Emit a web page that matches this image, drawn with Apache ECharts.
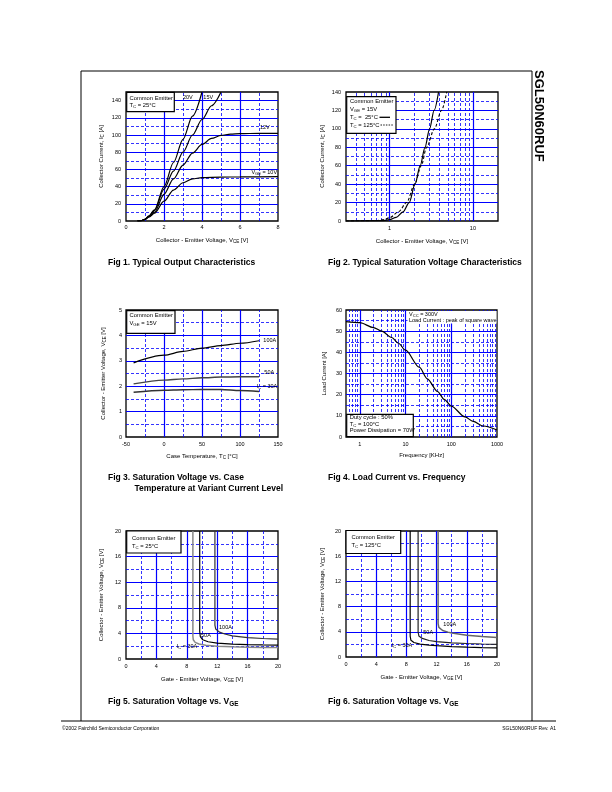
<!DOCTYPE html>
<html><head><meta charset="utf-8">
<script src="https://cdn.jsdelivr.net/npm/echarts@6/dist/echarts.min.js"></script>
<style>html,body{margin:0;padding:0;background:#fff}#c{width:612px;height:792px}</style>
</head><body><div id="c"></div>
<script>
// ---------------- DATA ----------------
// Fig 1: Ic vs Vce for various Vge (Tc = 25C)
const f1_vge20 = [[0.6,0],[0.8,0.5],[1.0,2],[1.2,6],[1.5,13],[2.0,40],[2.5,68],[3.0,95],[3.5,122],[4.0,150]];
const f1_vge15 = [[0.6,0],[0.8,0.5],[1.0,2],[1.2,5.5],[1.5,12],[2.0,37],[2.5,58],[3.0,80],[3.5,100],[4.0,118],[4.5,134],[5.0,150]];
const f1_vge12 = [[0.6,0],[0.8,0.5],[1.0,2],[1.2,5],[1.5,10],[2.0,31],[2.5,49],[3.0,65],[3.5,79],[4.0,89],[4.5,96],[5.0,99.5],[5.5,101],[6.0,101.5],[7.0,102],[8.0,102]];
const f1_vge10 = [[0.6,0],[0.8,0.5],[1.0,2],[1.2,4.5],[1.5,9],[2.0,23],[2.5,36],[3.0,44.5],[3.5,49],[4.0,50.5],[5.0,51],[6.0,51.3],[8.0,51.5]];
const f1_minorX = [1,3,5,7];
const f1_minorY = [10,30,50,70,90,110,130];

// Fig 2: saturation (log x)
const f2_tc25  = [[0.3,0],[0.85,0.5],[1.0,1.5],[1.2,4],[1.45,10],[1.72,20],[2.02,40],[2.33,60],[2.66,80],[3.02,100],[3.42,120],[3.87,140]];
const f2_tc125 = [[0.3,0],[0.7,0.5],[0.85,1.5],[1.0,3.5],[1.28,10],[1.6,20],[2.0,40],[2.4,60],[2.78,80],[3.45,100],[4.2,120],[4.85,140]];
const f2_minorX = [0.4,0.5,0.6,0.7,0.8,0.9,2,3,4,5,6,7,8,9];
const f2_minorY = [10,30,50,70,90,110,130];

// Fig 3: Vce vs Tc
const f3_100A = [[-40,2.92],[0,3.22],[25,3.37],[50,3.5],[75,3.6],[100,3.69],[125,3.79]];
const f3_50A  = [[-40,2.09],[0,2.24],[25,2.29],[50,2.33],[75,2.36],[100,2.37],[125,2.37]];
const f3_30A  = [[-40,1.76],[0,1.84],[25,1.86],[50,1.87],[75,1.87],[100,1.83],[125,1.79]];
const f3_minorX = [-25,25,75,125];
const f3_minorY = [0.5,1.5,2.5,3.5,4.5];

// Fig 4: Load current vs frequency (log x)
const f4_load = [[0.5,54.5],[1,54],[2,51.7],[3,50],[5,47],[7,44.3],[10,41],[20,33],[30,27.5],[50,21.5],[70,17.8],[100,14.6],[200,9.5],[300,7.4],[500,5.2],[1000,3.3]];
const f4_minorX = [0.6,0.7,0.8,0.9,2,3,4,5,6,7,8,9,20,30,40,50,60,70,80,90,200,300,400,500,600,700,800,900];
const f4_minorY = [5,15,25,35,45,55];

// Fig 5: Vce vs Vge, Tc = 25C
const f5_30A  = [[8.8,20],[8.8,3.6],[8.85,3.0],[9.1,2.6],[9.6,2.35],[10.5,2.15],[12,2.0],[14,1.9],[16,1.85],[18,1.8],[20,1.78]];
const f5_50A  = [[9.7,20],[9.7,4.3],[9.78,3.5],[10.1,3.0],[10.8,2.7],[12,2.48],[14,2.32],[16,2.25],[18,2.2],[20,2.18]];
const f5_100A = [[11.7,20],[11.7,5.3],[11.8,4.7],[12.3,4.2],[13,3.9],[14,3.62],[16,3.35],[18,3.2],[20,3.1]];
// Fig 6: Vce vs Vge, Tc = 125C
const f6_30A  = [[8.5,20],[8.5,3.3],[8.6,2.65],[9.0,2.3],[9.8,2.05],[11,1.88],[12,1.8],[14,1.66],[16,1.56],[18,1.5],[20,1.45]];
const f6_50A  = [[9.55,20],[9.55,4.0],[9.65,3.35],[10.1,2.95],[11,2.62],[12,2.45],[14,2.25],[16,2.14],[18,2.06],[20,2.0]];
const f6_100A = [[12.2,20],[12.2,5.3],[12.3,4.7],[12.8,4.2],[13.5,3.95],[14,3.8],[16,3.45],[18,3.25],[20,3.1]];
const f56_minorX = [2,6,10,14,18];
const f56_minorY = [2,6,10,14,18];

// ---------------- STYLE HELPERS ----------------
const FONT = '"Liberation Sans", Arial, sans-serif';
const NARROW = '"Liberation Sans Narrow", "Arial Narrow", "Liberation Sans", Arial, sans-serif';
const BLUE = '#0000ff';
function subRich(fs, bold, ff) {
  return {sub:{fontSize:fs*0.75, fontFamily:ff||FONT, fontWeight:bold?'bold':'normal', color:'#000',
               verticalAlign:'bottom', padding:[Math.round(fs*0.55),0,0,0]}};
}

function axis(gi, cfg) {
  const a = {
    gridIndex: gi, type: cfg.type || 'value', min: cfg.min, max: cfg.max,
    axisLine:{show:false}, axisTick:{show:false},
    axisLabel:{fontSize:5.5, color:'#000', fontFamily:FONT, margin:cfg.margin||4,
      showMinLabel: cfg.showMin !== false, showMaxLabel: cfg.showMax !== false,
      formatter: v => String(+(+v).toPrecision(6))},
    splitLine:{show:true, showMinLine:false, showMaxLine:false, lineStyle:{color:BLUE, width:1.2, type:'solid'}},
    name: cfg.name, nameLocation:'middle', nameGap: cfg.nameGap,
    nameTextStyle:{fontSize:6, color:'#000', fontFamily:FONT, rich:subRich(6)}
  };
  if (cfg.interval != null) a.interval = cfg.interval;
  if (a.type === 'log') a.logBase = 10;
  return a;
}
function gridSeries(gi, xs, ys) {
  return {type:'line', xAxisIndex:gi, yAxisIndex:gi, data:[], silent:true, z:1,
    markLine:{silent:true, symbol:['none','none'], animation:false, z:1,
      label:{show:false}, emphasis:{disabled:true},
      lineStyle:{color:BLUE, type:[3,2], width:0.8},
      data: xs.map(v=>({xAxis:v})).concat(ys.map(v=>({yAxis:v})))}};
}
function curve(gi, data, opt) {
  opt = opt || {};
  const s = {type:'line', xAxisIndex:gi, yAxisIndex:gi, data, symbol:'none', showSymbol:false,
    smooth: opt.smooth != null ? opt.smooth : 0.3, smoothMonotone: opt.smooth === false ? undefined : 'x',
    lineStyle:{color:opt.color||'#000', width:opt.width||1.2, type:opt.type||'solid'},
    z:3, silent:true, animation:false};
  if (opt.labels) {
    s.markPoint = {symbol:'circle', symbolSize:0, silent:true, animation:false,
      label:{show:true, position:[0,0], align:'left', verticalAlign:'middle', fontSize:5.5,
             color:'#000', fontFamily:FONT, rich:subRich(5.5)},
      data: opt.labels.map(l => ({coord:[l[0],l[1]], value:0, label:{formatter:l[2]}}))};
  }
  return s;
}

// ---------------- GRAPHICS (text, frame, boxes) ----------------
const G = [];
function line(x1,y1,x2,y2,w,dash) {
  G.push({type:'line', silent:true, z:10, shape:{x1,y1,x2,y2}, style:{stroke:'#000', lineWidth:w||1, lineDash:dash||null}});
}
function text(x,y,t,o) {
  o = o || {};
  const fs = o.fs || 5.8;
  G.push({type:'text', silent:true, z:11, x, y, rotation:o.rot||0,
    style:{text:t, x:0, y:0, fontSize:fs, fontFamily:o.ff||FONT, fontWeight:o.bold?'bold':'normal',
      fill:'#000', align:o.align||'left', verticalAlign:'middle', rich:subRich(fs, o.bold, o.ff)}});
}
function rect(x,y,w,h,border) {
  G.push({type:'rect', silent:true, z:10, shape:{x,y,width:w,height:h},
    style:{fill:'#fff', stroke:border?'#000':null, lineWidth:border?1.2:0}});
}

// page frame
line(81,71,532,71,1); line(81,71,81,721,1); line(532,71,532,721,1); line(61,721,556,721,1);
text(539,70,'SGL50N60RUF',{fs:13, bold:true, rot:-Math.PI/2});
text(62,729,'©2002 Fairchild Semiconductor Corporation',{fs:5});
text(556,729,'SGL50N60RUF Rev. A1',{fs:5, align:'right'});

// captions
const CAP = {fs:8.5, bold:true, ff:NARROW};
text(108,262.5,'Fig 1. Typical Output Characteristics',CAP);
text(328,262.5,'Fig 2. Typical Saturation Voltage Characteristics',CAP);
text(108,478,'Fig 3. Saturation Voltage vs. Case',CAP);
text(134.5,489,'Temperature at Variant Current Level',CAP);
text(328,478,'Fig 4. Load Current vs. Frequency',CAP);
text(108,702,'Fig 5. Saturation Voltage vs. V{sub|GE}',CAP);
text(328,702,'Fig 6. Saturation Voltage vs. V{sub|GE}',CAP);

// legend boxes
rect(126.7,92.3,47.6,19.4,true);
text(129.5,98,'Common Emitter'); text(129.5,105.5,'T{sub|C} = 25°C');

rect(346.7,96.7,49.3,36.6,true);
text(350,101.7,'Common Emitter'); text(350,109,'V{sub|GE} = 15V');
text(350,117,'T{sub|C} =  25°C'); text(350,125,'T{sub|C} = 125°C');
line(379.5,117.3,390,117.3,1.3); line(380.5,125,393,125,0.9,[1.5,1.2]);

rect(126.7,310.7,48.3,22.6,true);
text(129.5,315.7,'Common Emitter'); text(129.5,323.3,'V{sub|GE} = 15V');

rect(407.5,311,89,12.5,false);
text(409,314.3,'V{sub|CC} = 300V',{fs:5.5}); text(409,320.8,'Load Current : peak of square wave',{fs:5.5});
rect(346.7,414.3,66.6,22.4,true);
text(349.7,417.5,'Duty cycle : 50%'); text(349.7,424.2,'T{sub|C} = 100°C'); text(349.7,430.8,'Power Dissipation = 70W');

rect(126.7,531,54.3,22,true);
text(132,538,'Common Emitter'); text(132,546.3,'T{sub|C} = 25°C');
rect(346,530.5,54.7,23,true);
text(351.5,537.3,'Common Emitter'); text(351.5,545,'T{sub|C} = 125°C');

// ---------------- CHART ----------------
function grid(left,top,width,height) {
  return {left,top,width,height,show:true,borderColor:'#000',borderWidth:1.3,backgroundColor:'transparent',containLabel:false,outerBoundsMode:'none'};
}
const YN = 'Collector - Emitter Voltage, V{sub|CE} [V]';
const option = {
  animation:false,
  grid:[grid(126,92,152,129), grid(346,92,152,129), grid(126,310,152,127),
        grid(346,310,151,127), grid(126,531,152,128), grid(346,531,151,126)],
  xAxis:[
    axis(0,{min:0,max:8,interval:2,margin:3,name:'Collector - Emitter Voltage, V{sub|CE} [V]',nameGap:15}),
    axis(1,{type:'log',min:0.3,max:20,margin:4,showMin:false,showMax:false,name:'Collector - Emitter Voltage, V{sub|CE} [V]',nameGap:16}),
    axis(2,{min:-50,max:150,interval:50,margin:4,name:'Case Temperature, T{sub|C} [°C]',nameGap:15}),
    axis(3,{type:'log',min:0.5,max:1000,margin:4,showMin:false,name:'Frequency [KHz]',nameGap:15}),
    axis(4,{min:0,max:20,interval:4,margin:4,name:'Gate - Emitter Voltage, V{sub|GE} [V]',nameGap:16}),
    axis(5,{min:0,max:20,interval:4,margin:4,name:'Gate - Emitter Voltage, V{sub|GE} [V]',nameGap:16.5})
  ],
  yAxis:[
    axis(0,{min:0,max:150,interval:20,margin:5,showMax:false,name:'Collector Current, I{sub|C} [A]',nameGap:21}),
    axis(1,{min:0,max:140,interval:20,margin:5,name:'Collector Current, I{sub|C} [A]',nameGap:20}),
    axis(2,{min:0,max:5,interval:1,margin:4,name:YN,nameGap:19}),
    axis(3,{min:0,max:60,interval:10,margin:4,name:'Load Current [A]',nameGap:19}),
    axis(4,{min:0,max:20,interval:4,margin:5,name:YN,nameGap:21}),
    axis(5,{min:0,max:20,interval:4,margin:5,name:YN,nameGap:20})
  ],
  series:[
    gridSeries(0,f1_minorX,f1_minorY),
    curve(0,f1_vge20,{labels:[[3.0,144,'20V']]}),
    curve(0,f1_vge15,{labels:[[4.07,144,'15V']]}),
    curve(0,f1_vge12,{labels:[[7.05,108.5,'12V']]}),
    curve(0,f1_vge10,{labels:[[6.6,56.6,'V{sub|GE} = 10V']]}),

    gridSeries(1,f2_minorX,f2_minorY),
    curve(1,f2_tc25,{}),
    curve(1,f2_tc125,{type:[3,2],width:1.1}),

    gridSeries(2,f3_minorX,f3_minorY),
    curve(2,f3_100A,{labels:[[130.7,3.79,'100A']]}),
    curve(2,f3_50A,{color:'#444',width:1.4,labels:[[132,2.53,'50A']]}),
    curve(2,f3_30A,{color:'#333',width:1.4,labels:[[122,2.0,'I{sub|C} = 30A']]}),

    gridSeries(3,f4_minorX,f4_minorY),
    curve(3,f4_load,{}),

    gridSeries(4,f56_minorX,f56_minorY),
    curve(4,f5_30A,{smooth:false,color:'#888',width:1.5,labels:[[6.67,1.93,'I{sub|C} = 30A']]}),
    curve(4,f5_50A,{smooth:false,labels:[[9.87,3.75,'50A']]}),
    curve(4,f5_100A,{smooth:false,color:'#333',labels:[[12.24,4.9,'100A']]}),

    gridSeries(5,f56_minorX,f56_minorY),
    curve(5,f6_30A,{smooth:false,labels:[[6.05,1.85,'I{sub|C} = 30A']]}),
    curve(5,f6_50A,{smooth:false,color:'#222',labels:[[10.24,3.86,'50A']]}),
    curve(5,f6_100A,{smooth:false,color:'#666',width:1.5,labels:[[12.89,5.24,'100A']]})
  ],
  graphic: G
};
const chart = echarts.init(document.getElementById('c'), null, {renderer:'canvas'});
chart.setOption(option);
</script>
</body></html>
